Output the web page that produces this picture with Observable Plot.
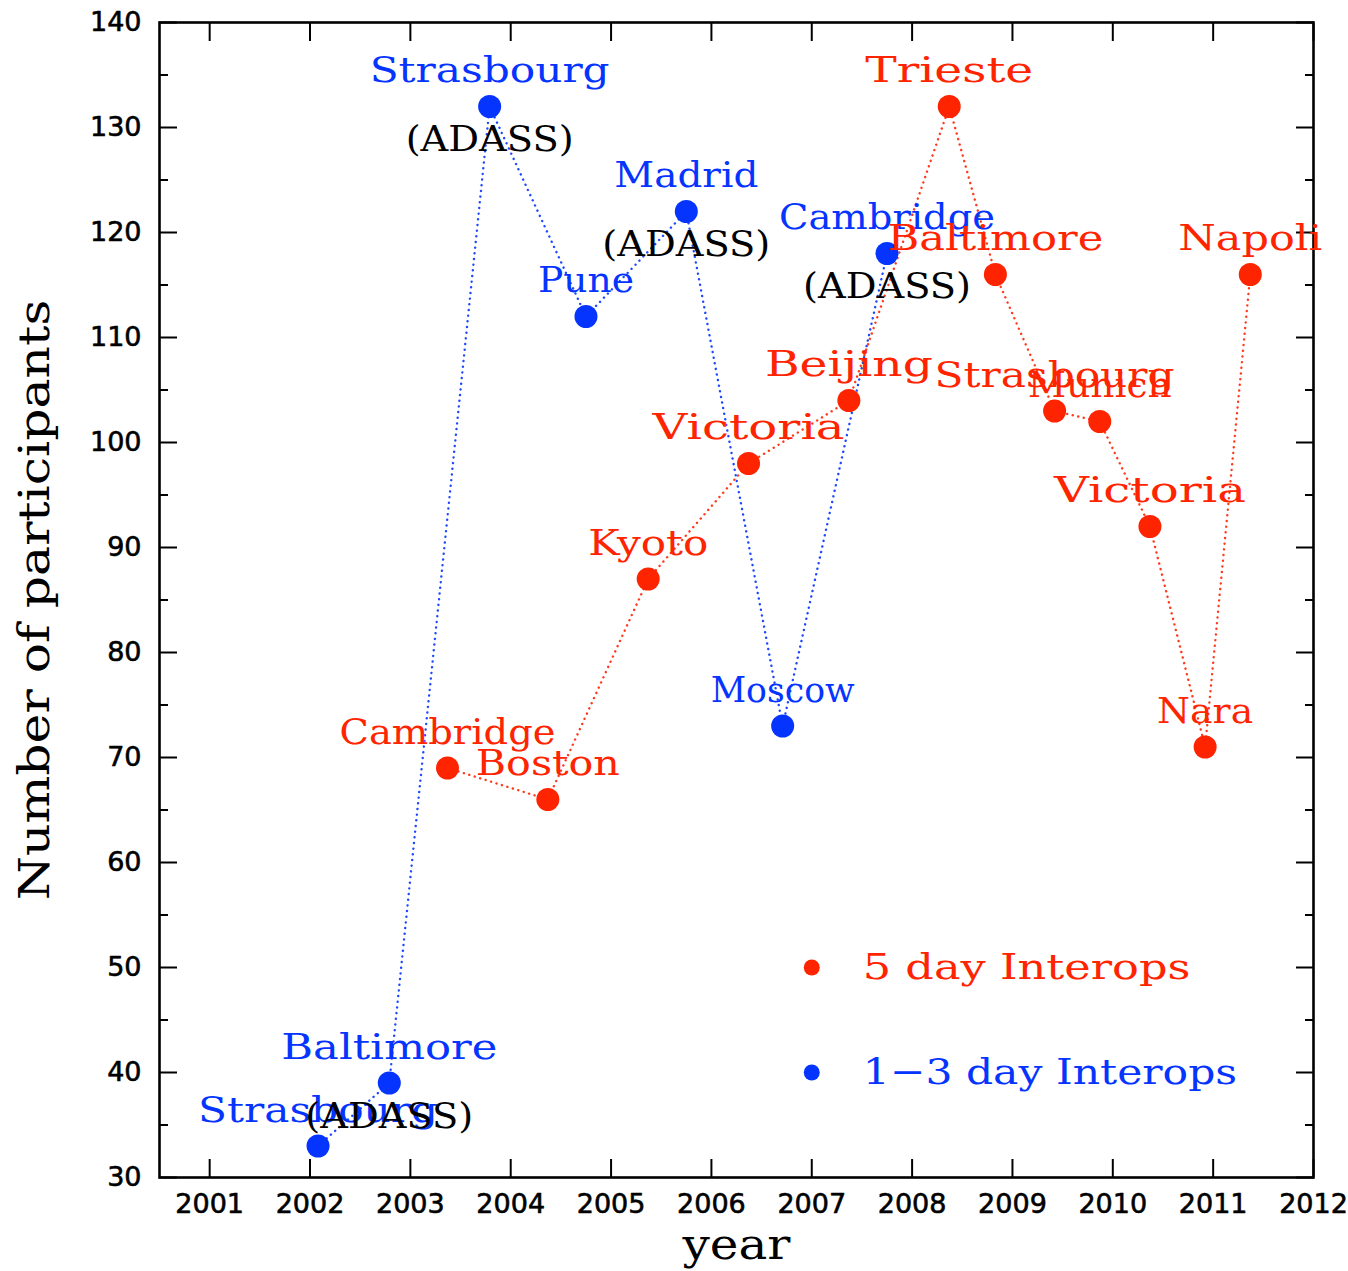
<!DOCTYPE html>
<html>
<head>
<meta charset="utf-8">
<script src="https://cdn.jsdelivr.net/npm/d3@7"></script>
<script src="https://cdn.jsdelivr.net/npm/@observablehq/plot@0.6"></script>
<style>
  html, body { margin: 0; padding: 0; background: #fff; }
  #chart svg { display: block; }
</style>
</head>
<body>
<div id="chart"></div>
<script>
// 5 day Interops (red)
const redYears  = [2003.37, 2004.37, 2005.37, 2006.37, 2007.37, 2008.37, 2008.83, 2009.42, 2009.87, 2010.37, 2010.92, 2011.37];
const redValues = [69, 66, 87, 98, 104, 132, 116, 103, 102, 92, 71, 116];
const redNames  = ["Cambridge", "Boston", "Kyoto", "Victoria", "Beijing", "Trieste", "Baltimore", "Strasbourg", "Munich", "Victoria", "Nara", "Napoli"];

// 1-3 day Interops (blue)
const blueYears  = [2002.08, 2002.79, 2003.79, 2004.75, 2005.75, 2006.71, 2007.75];
const blueValues = [33, 39, 132, 112, 122, 73, 118];
const blueNames  = ["Strasbourg", "Baltimore", "Strasbourg", "Pune", "Madrid", "Moscow", "Cambridge"];
const blueAdass  = [false, true, true, false, true, false, true];

// axes
const xTicks = [2001, 2002, 2003, 2004, 2005, 2006, 2007, 2008, 2009, 2010, 2011, 2012];
const yMajorTicks = [30, 40, 50, 60, 70, 80, 90, 100, 110, 120, 130, 140];
const yMinorTicks = [35, 45, 55, 65, 75, 85, 95, 105, 115, 125, 135];

// legend
const legendLabels = ["5 day Interops", "1\u22123 day Interops"];
const legendYears = [2007, 2007];
const legendValues = [50, 40];

const RED = "#ff2400";
const BLUE = "#0534ff";
const legendColors = [RED, BLUE];

const red = redYears.map((x, i) => ({x, y: redValues[i], name: redNames[i]}));
const blue = blueYears.map((x, i) => ({x, y: blueValues[i], name: blueNames[i], adass: blueAdass[i]}));
const legend = legendLabels.map((label, i) => ({x: legendYears[i], y: legendValues[i], label, color: legendColors[i]}));

const SERIF = "DejaVu Serif, serif";
const SANS = "DejaVu Sans, sans-serif";
const TICK = 18, MINOR = 9;
const dotted = {strokeWidth: 2.4, strokeDasharray: "0.1 5.6", strokeLinecap: "round", strokeOpacity: 0.9};
const tickText = {fontSize: 27, fontFamily: SANS, label: null, stroke: "none", textStroke: "#000", textStrokeWidth: 0.6};

// per-character widths of the original typewriter font, for each text mark in order
const charWidths = [24, 24, 24, 23.4, 27, 27.3];

const chart = Plot.plot({
  width: 1348,
  height: 1271,
  marginLeft: 159,
  marginRight: 35,
  marginTop: 22,
  marginBottom: 94,
  style: {background: "#fff", color: "#000"},
  x: {domain: [2000.5, 2012], label: null},
  y: {domain: [30, 140], label: null},
  marks: [
    // tick labels
    Plot.axisX(xTicks, {anchor: "bottom", tickSize: 0, tickPadding: 16, tickFormat: d => String(d), ...tickText}),
    Plot.axisY(yMajorTicks, {anchor: "left", tickSize: 0, tickPadding: 18, tickFormat: d => String(d), ...tickText}),
    // inward ticks
    Plot.axisX(xTicks, {anchor: "bottom", tickSize: TICK, dy: -TICK, strokeWidth: 2, fill: "none", label: null}),
    Plot.axisX(xTicks, {anchor: "top", tickSize: TICK, dy: TICK, strokeWidth: 2, fill: "none", label: null}),
    Plot.axisY(yMajorTicks, {anchor: "left", tickSize: TICK, dx: TICK, strokeWidth: 2, fill: "none", label: null}),
    Plot.axisY(yMajorTicks, {anchor: "right", tickSize: TICK, dx: -TICK, strokeWidth: 2, fill: "none", label: null}),
    Plot.axisY(yMinorTicks, {anchor: "left", tickSize: MINOR, dx: MINOR, strokeWidth: 2, fill: "none", label: null}),
    Plot.axisY(yMinorTicks, {anchor: "right", tickSize: MINOR, dx: -MINOR, strokeWidth: 2, fill: "none", label: null}),
    Plot.frame({stroke: "#000", strokeWidth: 2.6}),
    // connecting dotted lines
    Plot.line(blue, {x: "x", y: "y", stroke: BLUE, ...dotted}),
    Plot.line(red, {x: "x", y: "y", stroke: RED, ...dotted}),
    // points
    Plot.dot(blue, {x: "x", y: "y", r: 11.5, fill: BLUE, stroke: "none"}),
    Plot.dot(red, {x: "x", y: "y", r: 11.5, fill: RED, stroke: "none"}),
    // labels
    Plot.text(blue, {x: "x", y: "y", text: "name", dy: -36, fill: BLUE, fontSize: 36, fontFamily: SERIF}),
    Plot.text(red, {x: "x", y: "y", text: "name", dy: -36, fill: RED, fontSize: 36, fontFamily: SERIF}),
    Plot.text(blue.filter(d => d.adass), {x: "x", y: "y", text: () => "(ADASS)", dy: 33, fill: "#000", fontSize: 36, fontFamily: SERIF}),
    // legend
    Plot.dot(legend, {x: "x", y: "y", r: 8, fill: "color", stroke: "none"}),
    Plot.text(legend, {x: "x", y: "y", text: "label", fill: "color", dx: 51, textAnchor: "start", fontSize: 36, fontFamily: SERIF}),
    // axis titles
    Plot.text(["year"], {frameAnchor: "bottom", lineAnchor: "middle", textAnchor: "middle", dy: 68, fontSize: 42, fontFamily: SERIF, fill: "#000"}),
    Plot.text(["Number of participants"], {frameAnchor: "left", lineAnchor: "middle", textAnchor: "middle", rotate: -90, dx: -124, fontSize: 42, fontFamily: SERIF, fill: "#000"})
  ]
});

// give the serif labels the fixed per-character width of the original typewriter font
const textGroups = chart.querySelectorAll('g[aria-label="text"]');
textGroups.forEach((g, k) => {
  const w = charWidths[k];
  if (!w) return;
  g.querySelectorAll("text").forEach(t => {
    const n = Array.from(t.textContent).length;
    t.setAttribute("textLength", n * w);
    t.setAttribute("lengthAdjust", "spacingAndGlyphs");
  });
});

document.getElementById("chart").appendChild(chart);
</script>
</body>
</html>
